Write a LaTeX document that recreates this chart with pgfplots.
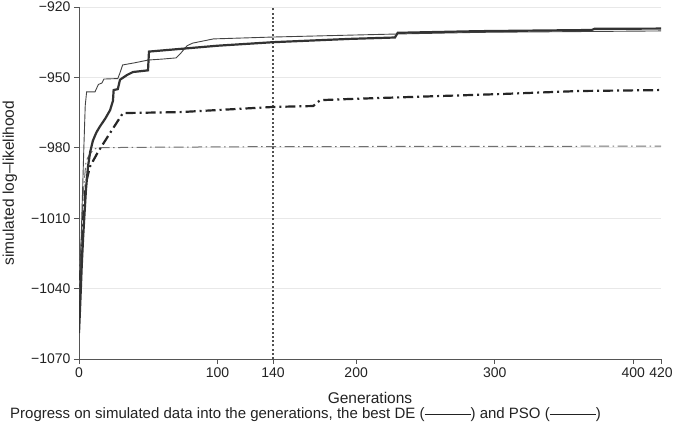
\documentclass[border=0pt]{standalone}
\usepackage{fontspec}
\setmainfont{Liberation Sans}
\usepackage{pgfplots}
\pgfplotsset{compat=1.18}

\definecolor{axisgray}{HTML}{555555}
\definecolor{gridgray}{HTML}{E8E8E8}
\definecolor{textgray}{HTML}{222222}
\definecolor{thickline}{HTML}{333333}
\definecolor{thinline}{HTML}{444444}
\definecolor{dashline}{HTML}{262626}
\definecolor{lightdash}{HTML}{707070}
\definecolor{refline}{HTML}{505050}

\newcommand{\sample}{\rule[0.28em]{46pt}{0.8pt}}

\begin{document}
\begin{tikzpicture}
\begin{axis}[
  scale only axis, width=582pt, height=352pt,
  at={(79pt,63pt)}, anchor=south west,
  xmin=0, xmax=420, ymin=-1070, ymax=-920,
  axis lines=left,
  axis line style={draw=axisgray, line width=0.9pt, -},
  xtick={0,100,140,200,300,400,420},
  ytick={-1070,-1040,-1010,-980,-950,-920},
  yticklabels={−1070,−1040,−1010,−980,−950,−920},
  tick align=outside, major tick length=5pt,
  tick style={draw=axisgray, line width=0.9pt},
  ymajorgrids, grid style={draw=gridgray, line width=0.8pt},
  ticklabel style={font=\fontsize{14}{16}\selectfont, text=textgray},
  /pgf/number format/assume math mode=true,
  xlabel={Generations}, ylabel={simulated log–likelihood},
  label style={font=\fontsize{15.5}{18}\selectfont, text=textgray},
  xlabel style={at={(axis description cs:0.5,-0.111)}, anchor=center},
  ylabel style={at={(axis description cs:-0.1186,0.5)}, anchor=center},
]
% generation 140 marker
\addplot[refline, line width=1.3pt, dash pattern=on 2pt off 2.2pt]
  coordinates {(140,-1070) (140,-920)};

% light dash-dot run
\addplot[lightdash, line width=1pt, dash pattern=on 10pt off 3.5pt on 1.5pt off 3.5pt]
  coordinates {(0,-1040) (3,-1000) (5,-986) (6.5,-984) (10,-981) (13,-980)
  (40,-979.8) (140,-979.5) (420,-979.3)};

% heavy dash-dot run
\addplot[dashline, line width=2.2pt, dash pattern=on 10pt off 4pt on 2pt off 4pt]
  coordinates {(0,-1045) (3,-1010) (5,-995) (7.9,-988) (13.7,-981.8) (22.4,-973.7)
  (31.7,-965.2) (73,-964.8) (140,-962.6) (169,-962.2) (174,-959.7) (195.5,-959.2)
  (304,-957.1) (361,-955.8) (420,-955.4)};

% thin solid run
\addplot[thinline, line width=0.9pt]
  coordinates {(0,-1052) (2,-1010) (3.5,-980) (4.5,-962) (5.5,-956.2) (11.5,-956.2)
  (14,-953) (16.5,-952.4) (18,-950.7) (28,-950.5) (29.5,-948.2) (31.5,-944.7)
  (40,-943.8) (50,-942.6) (60,-942.2) (70,-941.7) (73,-940) (78,-936.5) (82,-935.4)
  (97,-933.6) (140,-932.8) (195,-932) (230,-931.5) (290,-930.8) (420,-930.2)};

% thick solid run
\addplot[thickline, line width=2.2pt]
  coordinates {(0,-1059) (1,-1045) (2,-1030) (3,-1018) (4,-1008) (5,-998) (6.5,-988)
  (8,-982) (10,-977) (12.5,-973.5) (15,-971) (19,-967.5) (22.4,-964) (24.5,-960)
  (25,-955.4) (28,-955) (29.6,-951) (34.6,-949) (39,-947.7) (49.8,-947) (50.5,-939)
  (100,-936.5) (140,-935) (195,-933.6) (228,-933) (230,-931) (288,-930.3)
  (370,-929.8) (372,-929.3) (420,-929.2)};
\end{axis}
\node[anchor=base west, inner sep=0pt, text=textgray, font=\fontsize{15}{17}\selectfont]
  at (10pt,3pt) {Progress on simulated data into the generations, the best DE (\sample) and PSO (\sample)};
\pgfresetboundingbox
\path[use as bounding box] (0,0) rectangle (696pt,422pt);
\end{tikzpicture}
\end{document}
